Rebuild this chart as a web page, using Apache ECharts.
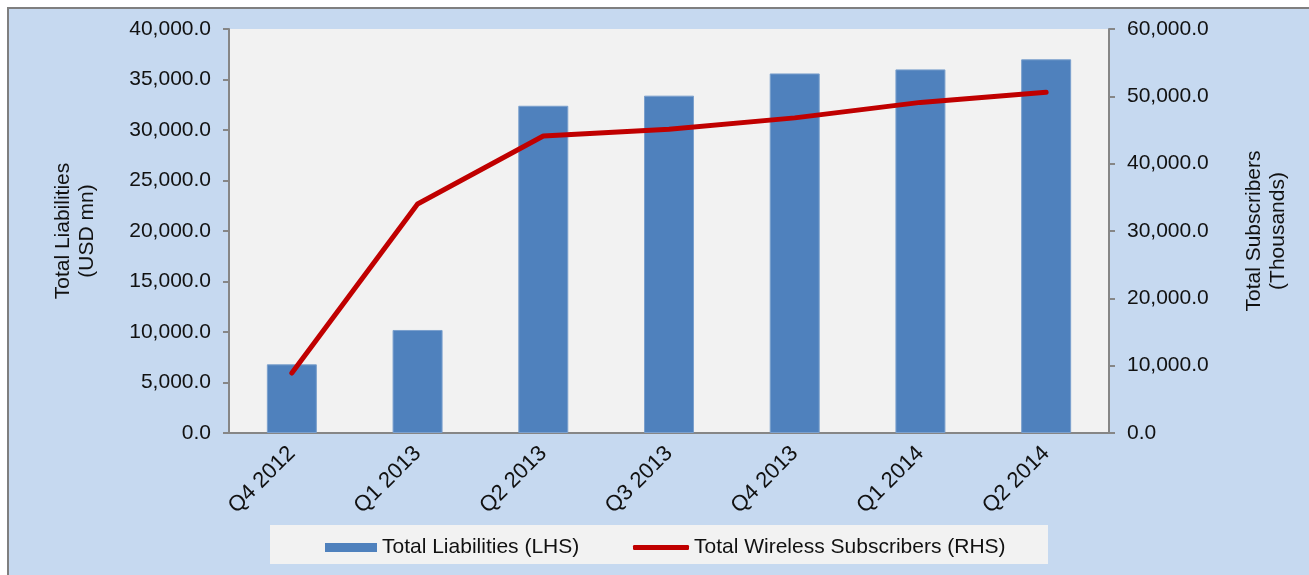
<!DOCTYPE html>
<html>
<head>
<meta charset="utf-8">
<script src="https://cdn.jsdelivr.net/npm/echarts@6/dist/echarts.min.js"></script>
<style>
    html, body { margin: 0; padding: 0; background: #fff; }
    #liabilities_chart { width: 1309px; height: 575px; }
</style>
</head>
<body>
<div id="liabilities_chart"></div>
<script>
// Chart data
// ------------------------------

var quarters = ['Q4 2012', 'Q1 2013', 'Q2 2013', 'Q3 2013', 'Q4 2013', 'Q1 2014', 'Q2 2014'];
var totalLiabilities = [6800, 10200, 32400, 33400, 35600, 36000, 37000];
var wirelessSubscribers = [8900, 34000, 44100, 45100, 46800, 49100, 50600];

// Number with thousands separator and one decimal
var fmt = function(v) {
    var parts = v.toFixed(1).split('.');
    return parts[0].replace(/\B(?=(\d{3})+(?!\d))/g, ',') + '.' + parts[1];
};

var chart_element = document.getElementById('liabilities_chart');
var chart = echarts.init(chart_element);

var font = 'Liberation Sans, Arial, sans-serif';

chart.setOption({
    animation: false,
    backgroundColor: '#ffffff',
    textStyle: {
        fontFamily: font,
        fontSize: 21,
        color: '#111'
    },

    // Outer blue panel with border, legend box
    graphic: [{
        type: 'rect',
        z: -10,
        shape: { x: 8, y: 8, width: 1320, height: 600 },
        style: { fill: '#c6d9f0', stroke: '#7f7f7f', lineWidth: 2 }
    }, {
        type: 'rect',
        z: -5,
        shape: { x: 270, y: 525, width: 778, height: 39 },
        style: { fill: '#f2f2f2' }
    }],

    grid: {
        left: 229,
        right: 200,
        top: 29,
        bottom: 142,
        show: true,
        backgroundColor: '#f2f2f2',
        borderWidth: 0
    },

    legend: [{
        data: [{ name: 'Total Liabilities (LHS)', icon: 'rect' }],
        left: 320,
        top: 532,
        itemWidth: 52,
        itemHeight: 9,
        itemStyle: { borderWidth: 0 },
        textStyle: { fontFamily: font, fontSize: 21, color: '#111' }
    }, {
        data: [{ name: 'Total Wireless Subscribers (RHS)', icon: 'roundRect' }],
        left: 628,
        top: 532,
        itemWidth: 56,
        itemHeight: 5,
        textStyle: { fontFamily: font, fontSize: 21, color: '#111' }
    }],

    xAxis: [{
        type: 'category',
        data: quarters,
        axisLine: { lineStyle: { color: '#868686', width: 2 } },
        axisTick: { inside: true, length: 6, lineStyle: { color: '#868686', width: 2 } },
        axisLabel: {
            rotate: 45,
            margin: 17,
            fontFamily: font,
            fontSize: 22,
            color: '#111'
        }
    }],

    yAxis: [{
        type: 'value',
        min: 0,
        max: 40000,
        interval: 5000,
        name: 'Total Liabilities\n(USD mn)',
        nameLocation: 'middle',
        nameGap: 130,
        nameTextStyle: { fontFamily: font, fontSize: 21, color: '#111', lineHeight: 24 },
        axisLine: { show: true, lineStyle: { color: '#868686', width: 2 } },
        axisTick: { show: true, length: 6, lineStyle: { color: '#868686', width: 2 } },
        splitLine: { show: false },
        axisLabel: {
            margin: 18,
            fontFamily: font,
            fontSize: 21,
            color: '#111',
            formatter: fmt
        }
    }, {
        type: 'value',
        min: 0,
        max: 60000,
        interval: 10000,
        position: 'right',
        name: 'Total Subscribers\n(Thousands)',
        nameLocation: 'middle',
        nameGap: 133,
        nameTextStyle: { fontFamily: font, fontSize: 21, color: '#111', lineHeight: 24 },
        axisLine: { show: true, lineStyle: { color: '#868686', width: 2 } },
        axisTick: { show: true, length: 6, lineStyle: { color: '#868686', width: 2 } },
        splitLine: { show: false },
        axisLabel: {
            margin: 18,
            fontFamily: font,
            fontSize: 21,
            color: '#111',
            formatter: fmt
        }
    }],

    series: [{
        name: 'Total Liabilities (LHS)',
        type: 'bar',
        yAxisIndex: 0,
        barWidth: 50,
        itemStyle: { color: '#4f81bd', borderColor: '#7ba0cd', borderWidth: 1 },
        data: totalLiabilities
    }, {
        name: 'Total Wireless Subscribers (RHS)',
        type: 'line',
        yAxisIndex: 1,
        showSymbol: false,
        symbol: 'none',
        lineStyle: { color: '#c00000', width: 5, cap: 'round', join: 'round' },
        itemStyle: { color: '#c00000' },
        data: wirelessSubscribers
    }]
});
</script>
</body>
</html>
